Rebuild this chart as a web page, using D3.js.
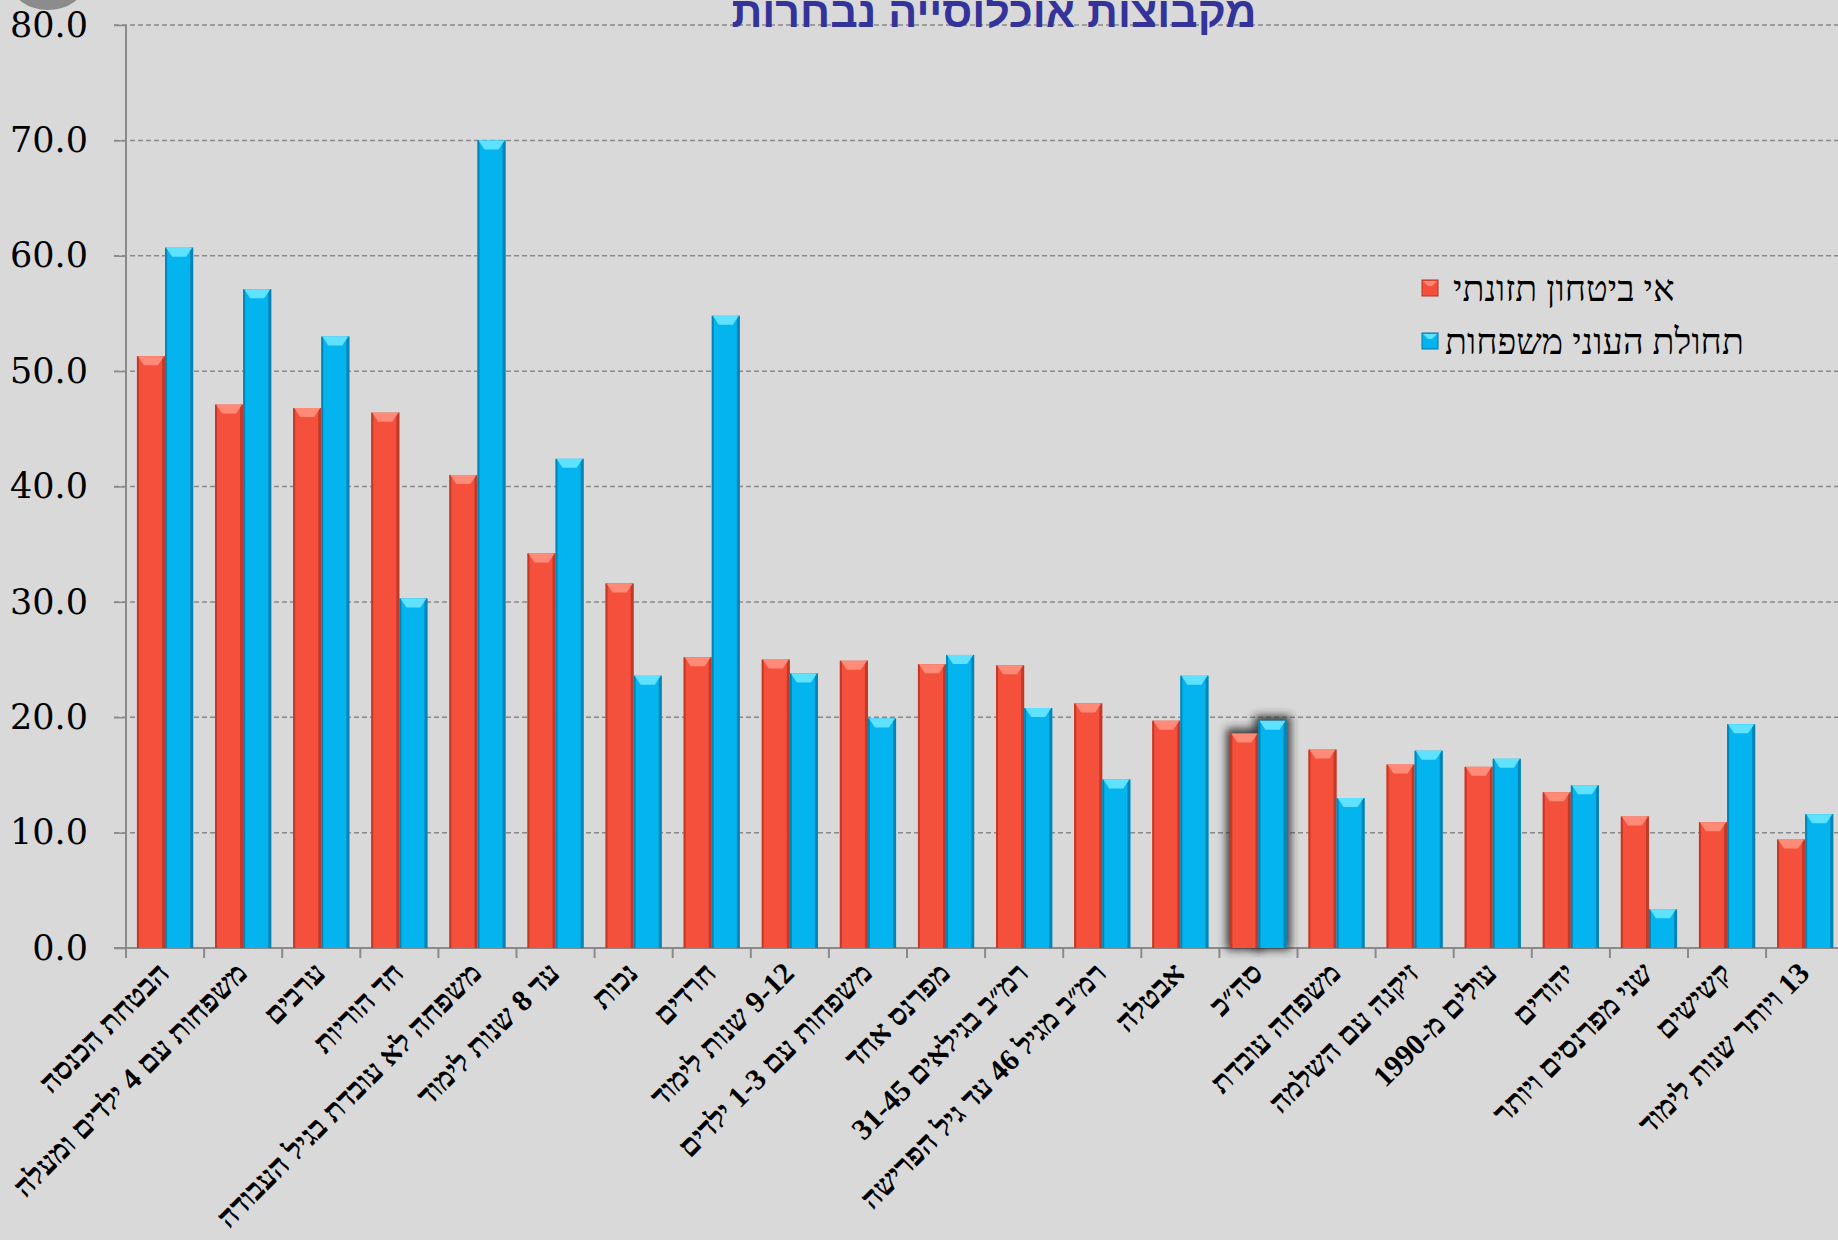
<!DOCTYPE html>
<html>
<head>
<meta charset="utf-8">
<script src="https://cdn.jsdelivr.net/npm/d3@7"></script>
<style>
	body { margin: 0; background: #d9d9d9; overflow: hidden; }
</style>
</head>
<body>
<div id="chartDiv"></div>
<script>
;(function() {

	var width = 1838;
	var height = 1240;
	var margin = { top: 25, left: 126, bottom: 292 };

	var chartTitle = "מקבוצות אוכלוסייה נבחרות";
	var seriesNames = ["אי ביטחון תזונתי", "תחולת העוני משפחות"];

	var categories = [
		"הבטחת הכנסה",
		"משפחות עם 4 ילדים ומעלה",
		"ערבים",
		"חד הוריות",
		"משפחה לא עובדת בגיל העבודה",
		"עד 8 שנות לימוד",
		"נכות",
		"חרדים",
		"9-12 שנות לימוד",
		"משפחות עם 1-3 ילדים",
		"מפרנס אחד",
		"רמ״ב בגילאים 31-45",
		"רמ״ב מגיל 46 עד גיל הפרישה",
		"אבטלה",
		"סה״כ",
		"משפחה עובדת",
		"זיקנה עם השלמה",
		"עולים מ-1990",
		"יהודים",
		"שני מפרנסים ויותר",
		"קשישים",
		"13 ויותר שנות לימוד"
	];

	// אי ביטחון תזונתי
	var foodInsecurity = [51.3, 47.1, 46.8, 46.4, 41.0, 34.2, 31.6, 25.2, 25.0, 24.9, 24.6,
		24.5, 21.2, 19.7, 18.6, 17.2, 15.9, 15.7, 13.5, 11.4, 10.9, 9.4];
	// תחולת העוני משפחות
	var povertyRate = [60.7, 57.1, 53.0, 30.3, 70.0, 42.4, 23.6, 54.8, 23.8, 19.9, 25.4,
		20.8, 14.6, 23.6, 19.7, 13.0, 17.1, 16.4, 14.1, 3.35, 19.4, 11.6];

	var yTicks = [0, 10, 20, 30, 40, 50, 60, 70, 80];
	var highlighted = ["סה״כ"];

	var colors = [
		{ main: "#f5503c", light: "#ff8a78", dark: "#b83222" },
		{ main: "#04b4ee", light: "#5ee2ff", dark: "#0379a8" }
	];

	var chart = d3.select("#chartDiv").append("svg")
		.attr("width", width)
		.attr("height", height)
		.style("display", "block");

	var defs = chart.append("defs");
	defs.append("filter")
		.attr("id", "groupShadow")
		.attr("x", "-50%").attr("y", "-50%").attr("width", "200%").attr("height", "200%")
		.append("feGaussianBlur")
		.attr("stdDeviation", 4);

	chart.append("rect")
		.attr("width", width)
		.attr("height", height)
		.attr("fill", "#d9d9d9");

	// decorative grey blob in the corner
	chart.append("ellipse")
		.attr("cx", 48).attr("cy", -16)
		.attr("rx", 36).attr("ry", 26)
		.attr("fill", "#8c8c8c");

	var plotBottom = height - margin.bottom;
	var step = 78.1;

	var xScale = d3.scaleBand()
		.domain(categories)
		.range([margin.left, margin.left + step * categories.length])
		.paddingInner(0.28)
		.paddingOuter(0.14);

	var xSeries = d3.scaleBand()
		.domain([0, 1])
		.range([0, xScale.bandwidth()]);

	var yScale = d3.scaleLinear()
		.domain([0, 80])
		.range([plotBottom, margin.top]);

	// grid lines
	chart.append("g")
		.selectAll("line")
		.data(yTicks.filter(d => d > 0))
		.enter().append("line")
		.attr("x1", margin.left - 12)
		.attr("x2", width)
		.attr("y1", d => yScale(d))
		.attr("y2", d => yScale(d))
		.attr("stroke", "#8a8a8a")
		.attr("stroke-width", 1.5)
		.attr("stroke-dasharray", "5,3");

	// y axis
	var yAxis = d3.axisLeft(yScale)
		.tickValues(yTicks)
		.tickSize(12)
		.tickPadding(26)
		.tickFormat(d3.format(".1f"));

	var yAxisContainer = chart.append("g")
		.attr("transform", "translate(" + margin.left + ",0)")
		.call(yAxis);
	yAxisContainer.select(".domain").attr("stroke", "#8a8a8a").attr("stroke-width", 2)
		.attr("d", "M0," + margin.top + "V" + (plotBottom + 10));
	yAxisContainer.selectAll(".tick line").attr("stroke", "#8a8a8a").attr("stroke-width", 1.5);
	yAxisContainer.selectAll(".tick text")
		.attr("fill", "#000")
		.style("font-family", "'DejaVu Serif', serif")
		.style("font-size", "35px");

	// x axis line with ticks at category boundaries
	chart.append("line")
		.attr("x1", margin.left - 12)
		.attr("x2", width)
		.attr("y1", plotBottom)
		.attr("y2", plotBottom)
		.attr("stroke", "#8a8a8a")
		.attr("stroke-width", 2);

	chart.append("g")
		.selectAll("line")
		.data(categories)
		.enter().append("line")
		.attr("x1", d => xScale(d) - xScale.step() * xScale.paddingInner() / 2)
		.attr("x2", d => xScale(d) - xScale.step() * xScale.paddingInner() / 2)
		.attr("y1", plotBottom)
		.attr("y2", plotBottom + 10)
		.attr("stroke", "#8a8a8a")
		.attr("stroke-width", 2);

	// bars
	var rows = categories.map(function(c, i) {
		return { cat: c, values: [foodInsecurity[i], povertyRate[i]] };
	});

	var groups = chart.append("g").selectAll(".group")
		.data(rows)
		.enter().append("g")
		.attr("class", "group")
		.attr("transform", d => "translate(" + xScale(d.cat) + ",0)");

	// dark halo behind the highlighted group
	groups.filter(d => highlighted.indexOf(d.cat) >= 0)
		.selectAll(".halo")
		.data(d => d.values)
		.enter().append("rect")
		.attr("class", "halo")
		.attr("x", (d, i) => xSeries(i) - 4)
		.attr("y", d => yScale(d) - 5)
		.attr("width", xSeries.bandwidth() + 8)
		.attr("height", d => plotBottom - yScale(d) + 7)
		.attr("fill", "#2a2a2a")
		.attr("opacity", 0.9)
		.attr("filter", "url(#groupShadow)");

	groups.each(function(row) {
		var g = d3.select(this);
		var bw = xSeries.bandwidth();
		row.values.forEach(function(v, i) {
			var x0 = xSeries(i);
			var top = yScale(v);
			var h = plotBottom - top;
			var c = colors[i];
			g.append("rect")
				.attr("x", x0).attr("y", top)
				.attr("width", bw).attr("height", h)
				.attr("fill", c.main);
			g.append("rect")
				.attr("x", x0).attr("y", top)
				.attr("width", 2).attr("height", h)
				.attr("fill", c.dark).attr("opacity", 0.8);
			g.append("rect")
				.attr("x", x0 + bw - 3).attr("y", top)
				.attr("width", 3).attr("height", h)
				.attr("fill", c.dark).attr("opacity", 0.8);
			var bevel = Math.min(9, h);
			g.append("polygon")
				.attr("points", [
					[x0 + 1, top], [x0 + bw - 1, top],
					[x0 + bw / 2 + 7, top + bevel], [x0 + bw / 2 - 7, top + bevel]
				].map(p => p.join(",")).join(" "))
				.attr("fill", c.light);
		});
	});

	// x labels, rotated
	chart.append("g").selectAll("text")
		.data(categories)
		.enter().append("text")
		.attr("transform", d => "translate(" + (xScale(d) + xScale.bandwidth() / 2 + 6) + "," + (plotBottom + 27) + ") rotate(-45)")
		.attr("direction", "rtl")
		.attr("text-anchor", "start")
		.style("font-family", "'Liberation Serif', 'DejaVu Sans', serif")
		.style("font-weight", "bold")
		.style("font-size", "30px")
		.attr("fill", "#000")
		.text(d => d);

	// title
	chart.append("text")
		.attr("x", 994)
		.attr("y", 27)
		.attr("text-anchor", "middle")
		.style("font-family", "'Liberation Sans', 'DejaVu Sans', sans-serif")
		.style("font-weight", "bold")
		.style("font-size", "43px")
		.attr("fill", "#333399")
		.text(chartTitle);

	// legend
	var legend = chart.append("g").selectAll("g")
		.data(seriesNames)
		.enter().append("g")
		.attr("transform", (d, i) => "translate(1422," + (280 + i * 53) + ")");

	legend.append("rect")
		.attr("width", 16).attr("height", 16)
		.attr("fill", (d, i) => colors[i].main)
		.attr("stroke", (d, i) => colors[i].dark)
		.attr("stroke-width", 1);
	legend.append("polygon")
		.attr("points", "1,1 15,1 10,6 6,6")
		.attr("fill", (d, i) => colors[i].light);

	legend.append("text")
		.attr("x", (d, i) => i === 0 ? 31 : 23)
		.attr("y", 8)
		.attr("dy", "0.35em")
		.style("font-family", "'Liberation Serif', 'DejaVu Sans', serif")
		.style("font-size", "36px")
		.attr("fill", "#000")
		.text(d => d);

})();
</script>
</body>
</html>
